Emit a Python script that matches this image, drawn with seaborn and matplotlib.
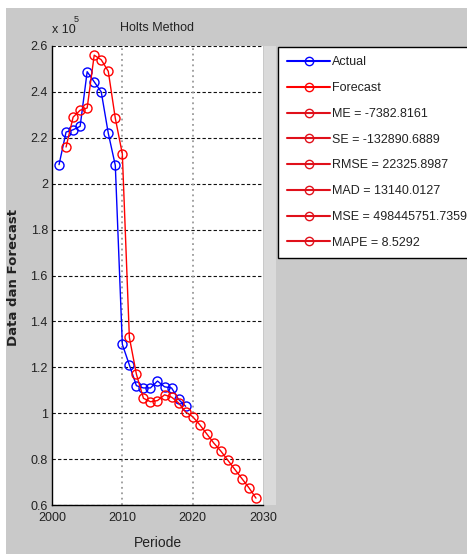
import matplotlib
matplotlib.use("Agg")
import matplotlib.pyplot as plt
from matplotlib.lines import Line2D
from matplotlib.patches import Rectangle
import seaborn as sns
import pandas as pd

# Observed series
actual_years = [2001, 2002, 2003, 2004, 2005, 2006, 2007, 2008, 2009, 2010,
                2011, 2012, 2013, 2014, 2015, 2016, 2017, 2018, 2019]
actual_values = [208300, 222500, 223500, 225000, 248800, 244400, 240000, 222000, 208000, 130000,
                 121000, 112000, 111000, 111000, 114000, 111500, 111000, 106000, 103000]

# Holt forecast series
forecast_years = [2002, 2003, 2004, 2005, 2006, 2007, 2008, 2009, 2010, 2011,
                  2012, 2013, 2014, 2015, 2016, 2017, 2018, 2019, 2020, 2021,
                  2022, 2023, 2024, 2025, 2026, 2027, 2028, 2029]
forecast_values = [216000, 229000, 232000, 233000, 256000, 254000, 249000, 228500, 213000, 133000,
                   117000, 106500, 105000, 105500, 108000, 107000, 104500, 100500, 98500, 95000,
                   91000, 87000, 83500, 79500, 75500, 71500, 67500, 63000]

# Error measures shown in the legend
stat_labels = ["ME = -7382.8161", "SE = -132890.6889", "RMSE = 22325.8987",
               "MAD = 13140.0127", "MSE = 498445751.7359", "MAPE = 8.5292"]

x_ticks = [2000, 2010, 2020, 2030]
y_ticks = [0.6, 0.8, 1.0, 1.2, 1.4, 1.6, 1.8, 2.0, 2.2, 2.4, 2.6]
y_tick_labels = ["0.6", "0.8", "1", "1.2", "1.4", "1.6", "1.8", "2", "2.2", "2.4", "2.6"]

SCALE = 1e5
BLUE = "#0000ff"
RED = "#ff0000"
FIG_GRAY = "#c9c9c9"
TXT = "#222222"

sns.set_theme(style="white")
plt.rcParams["font.family"] = ["Liberation Sans Narrow", "Liberation Sans", "DejaVu Sans"]

W, H = 467, 554
fig = plt.figure(figsize=(W / 100, H / 100), dpi=100, facecolor="white")

# figure panel background and the light strip right of the axes
fig.patches.append(Rectangle((6 / W, 0), 1 - 6 / W, 1 - 8 / H, transform=fig.transFigure,
                             facecolor=FIG_GRAY, edgecolor="none", zorder=-10))
fig.patches.append(Rectangle((264 / W, 49 / H), 12 / W, 459 / H, transform=fig.transFigure,
                             facecolor="#dadada", edgecolor="none", zorder=-9))

ax = fig.add_axes([52 / W, 49 / H, 211 / W, 459 / H])
ax.set_facecolor("white")

df_act = pd.DataFrame({"Periode": actual_years, "Nilai": [v / SCALE for v in actual_values]})
df_fc = pd.DataFrame({"Periode": forecast_years, "Nilai": [v / SCALE for v in forecast_values]})

mk = dict(marker="o", markersize=6.5, markerfacecolor="none", markeredgewidth=1.0, linewidth=1.0)
sns.lineplot(data=df_act, x="Periode", y="Nilai", ax=ax, color=BLUE,
             markeredgecolor=BLUE, zorder=3, **mk)
sns.lineplot(data=df_fc, x="Periode", y="Nilai", ax=ax, color=RED,
             markeredgecolor=RED, zorder=4, **mk)

ax.set_xlim(2000, 2030)
ax.set_ylim(0.6, 2.6)
ax.set_xticks(x_ticks)
ax.set_xticklabels([str(t) for t in x_ticks])
ax.set_yticks(y_ticks)
ax.set_yticklabels(y_tick_labels)
ax.set_xlabel("")
ax.set_ylabel("")

# grid: dashed dark horizontals, dotted grey verticals
for yv in y_ticks:
    ax.axhline(yv, color="#111111", lw=0.8, ls=(0, (3, 2)), zorder=1)
for xv in x_ticks[1:-1]:
    ax.axvline(xv, color="#9a9a9a", lw=1.3, ls=(0, (1, 2)), zorder=1)

for side in ["top", "right"]:
    ax.spines[side].set_visible(False)
for side in ["left", "bottom"]:
    ax.spines[side].set_visible(True)
    ax.spines[side].set_color("#000000")
    ax.spines[side].set_linewidth(1.0)

ax.tick_params(axis="both", direction="in", length=3, width=0.8, colors="#000000",
               labelsize=9, labelcolor=TXT, pad=3)
ax.tick_params(axis="x", pad=5)

# texts around the axes
fig.text(157.5 / W, 1 - 28 / H, "Holts Method", ha="center", va="center", fontsize=9, color=TXT)
fig.text(52 / W, 1 - 30 / H, "x 10", ha="left", va="center", fontsize=9, color=TXT)
fig.text(74 / W, 1 - 20 / H, "5", ha="left", va="center", fontsize=6.5, color=TXT)
fig.text(157.5 / W, 1 - 543 / H, "Periode", ha="center", va="center", fontsize=10, color=TXT)
fig.text(14 / W, 1 - 277 / H, "Data dan Forecast", ha="center", va="center", rotation=90,
         fontsize=9.5, color=TXT, family=["DejaVu Sans"], fontweight="bold")

# legend
leg_kw = dict(marker="o", markersize=6, markerfacecolor="none", markeredgewidth=1.0, linewidth=1.5)
handles = [Line2D([0], [0], color=BLUE, markeredgecolor=BLUE, **leg_kw),
           Line2D([0], [0], color=RED, markeredgecolor=RED, **leg_kw)]
labels = ["Actual", "Forecast"]
for s in stat_labels:
    handles.append(Line2D([0], [0], color="#e0101a", markeredgecolor="#e0101a", **leg_kw))
    labels.append(s)

leg = ax.legend(handles, labels, loc="upper left", bbox_to_anchor=(278 / W, 1 - 47 / H),
                bbox_transform=fig.transFigure, frameon=True, fancybox=False, framealpha=1,
                edgecolor="#000000", facecolor="white", fontsize=9, labelspacing=1.1,
                handlelength=3.4, handletextpad=0.2, borderpad=0.75, borderaxespad=0)
leg.get_frame().set_linewidth(1.0)
for t in leg.get_texts():
    t.set_color(TXT)

fig.savefig("out.png", dpi=100, facecolor=fig.get_facecolor())
